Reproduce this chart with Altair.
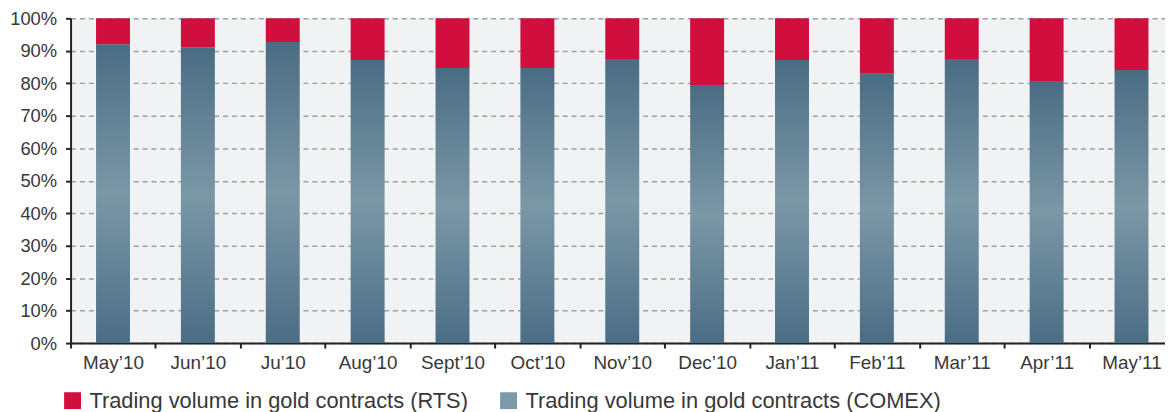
import altair as alt
import pandas as pd

months = ["May’10", "Jun’10", "Ju’10", "Aug’10", "Sept’10", "Oct’10", "Nov’10",
          "Dec’10", "Jan’11", "Feb’11", "Mar’11", "Apr’11", "May’11"]
comex = [92.0, 91.1, 92.7, 87.2, 84.7, 84.7, 87.5, 79.5, 87.2, 82.9, 87.5, 80.7, 84.1]
rts = [8.0, 8.9, 7.3, 12.8, 15.3, 15.3, 12.5, 20.5, 12.8, 17.1, 12.5, 19.3, 15.9]
series = ["Trading volume in gold contracts (RTS)", "Trading volume in gold contracts (COMEX)"]
series_colors = ["#d10f3f", "#7d9aab"]

df = pd.DataFrame({"month": months, "comex": comex, "rts": rts})
leg = pd.DataFrame({"series": series})

FONT = "Liberation Sans"

x_enc = alt.X("month:N", sort=months, title=None,
              scale=alt.Scale(paddingInner=0, paddingOuter=0, range=[0, 1111]),
              axis=alt.Axis(labelAngle=0, labelFontSize=19, labelColor="#383838",
                            labelFont=FONT, tickBand="extent", tickSize=5, tickWidth=2,
                            tickColor="#222222", domainColor="#222222", domainWidth=2,
                            labelPadding=6, grid=False))
y_axis = alt.Axis(values=list(range(0, 101, 10)), labelExpr="datum.value + '%'",
                  labelFontSize=18.5, labelColor="#383838", labelFont=FONT,
                  labelOverlap=False, tickSize=5, tickWidth=2, tickColor="#222222",
                  domainColor="#222222", domainWidth=2, labelPadding=9,
                  grid=True, gridColor="#a0a0a0", gridDash=[5, 4], gridWidth=1.5)
y_scale = alt.Scale(domain=[0, 100])

gradient = alt.Gradient(
    gradient="linear",
    stops=[alt.GradientStop(offset=0, color="#4a6c83"),
           alt.GradientStop(offset=0.5, color="#7b98a7"),
           alt.GradientStop(offset=1, color="#4b6d85")],
    x1=0, x2=0, y1=0, y2=1)

base = alt.Chart(df)
blue = base.mark_bar(color=gradient, width=alt.RelativeBandSize(0.4)).encode(
    x=x_enc, y=alt.Y("comex:Q", title=None, scale=y_scale, axis=y_axis))
red = base.transform_calculate(total="datum.comex + datum.rts").mark_bar(
    color=series_colors[0], width=alt.RelativeBandSize(0.4)
).encode(x=x_enc, y=alt.Y("comex:Q", title=None, scale=y_scale, axis=y_axis),
         y2=alt.Y2("total:Q"))

legend_layer = alt.Chart(leg).mark_square(opacity=0).encode(
    color=alt.Color("series:N", sort=series,
                    scale=alt.Scale(domain=series, range=series_colors),
                    legend=alt.Legend(title=None, orient="none", direction="horizontal",
                                      legendX=-9, legendY=374, symbolType="square",
                                      symbolSize=289, symbolOpacity=1, symbolStrokeWidth=0,
                                      labelFontSize=22, labelFont=FONT, labelColor="#383838",
                                      labelOffset=6, columnPadding=29, padding=0,
                                      labelLimit=600))
)

chart = alt.layer(blue, red, legend_layer).properties(
    width=1102, height=327,
    autosize=alt.AutoSizeParams(type="none"),
    padding={"top": 9, "left": 63, "right": 0, "bottom": 68},
    view=alt.ViewBackground(fill="#f1f2f4", stroke=None),
).configure(background="white")

chart.save("out.html", embed_options={"renderer": "svg", "actions": False})
